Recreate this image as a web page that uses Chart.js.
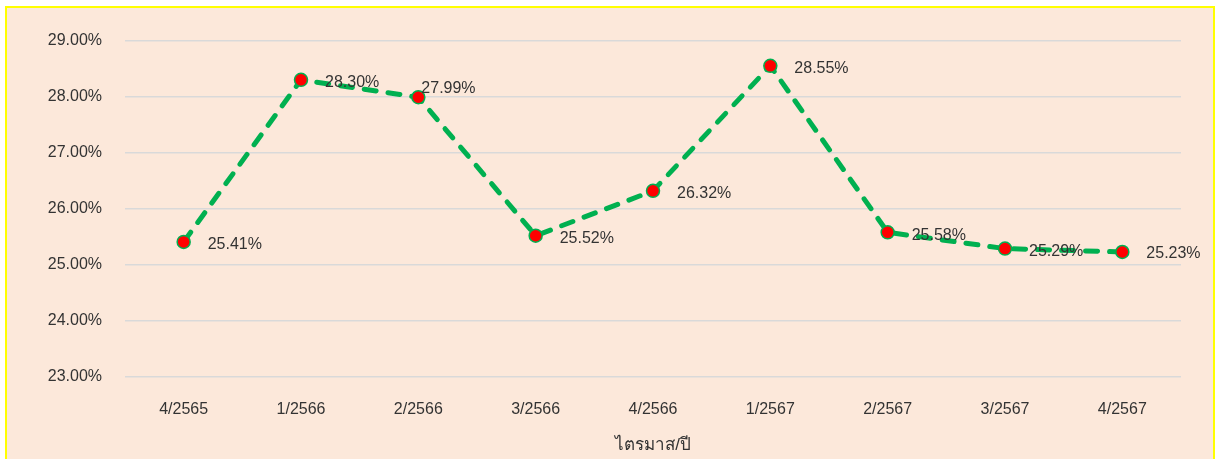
<!DOCTYPE html>
<html>
<head>
<meta charset="utf-8">
<script src="https://cdn.jsdelivr.net/npm/chart.js@4"></script>
<style>
  html, body { margin: 0; padding: 0; background: #ffffff; overflow: hidden; }
  #box {
    position: absolute; left: 5px; top: 6px;
    width: 1206px; height: 460px;
    border: 2px solid #ffff00;
    background: #fce8da;
  }
  #wrap { position: relative; width: 1206px; height: 451px; }
</style>
</head>
<body>
<div id="box"><div id="wrap"><canvas id="chart"></canvas></div></div>
<script>
  // quarters (Thai year)
  const quarters = ["4/2565", "1/2566", "2/2566", "3/2566", "4/2566", "1/2567", "2/2567", "3/2567", "4/2567"];
  // percent values
  const rates = [25.41, 28.30, 27.99, 25.52, 26.32, 28.55, 25.58, 25.29, 25.23];
  const yMin = 23;
  const yMax = 29;
  const axisTitle = "ไตรมาส/ปี";

  const textColor = "#333333";
  const fontFamily = "'Liberation Sans', 'Noto Sans', sans-serif";

  // simple value labels to the right of each point
  const pointLabels = {
    id: "pointLabels",
    afterDatasetsDraw(chart, args, opts) {
      const ctx = chart.ctx;
      const meta = chart.getDatasetMeta(0);
      ctx.save();
      ctx.font = opts.font;
      ctx.fillStyle = opts.color;
      ctx.textAlign = "left";
      ctx.textBaseline = "middle";
      meta.data.forEach((pt, i) => {
        const shift = opts.shift[i] || [24, 3];
        ctx.fillText(rates[i].toFixed(2) + "%", pt.x + shift[0], pt.y + shift[1]);
      });
      ctx.restore();
    }
  };

  new Chart(document.getElementById("chart"), {
    type: "line",
    data: {
      labels: quarters,
      datasets: [{
        data: rates,
        borderColor: "#00b050",
        borderWidth: 5,
        borderDash: [12, 12],
        borderCapStyle: "round",
        tension: 0,
        pointRadius: 6.5,
        pointBackgroundColor: "#ff0000",
        pointBorderColor: "#00b050",
        pointBorderWidth: 1.5
      }]
    },
    options: {
      responsive: true,
      maintainAspectRatio: false,
      animation: false,
      layout: { padding: { top: 30, right: 32, bottom: 0, left: 0 } },
      plugins: {
        legend: { display: false },
        tooltip: { enabled: false },
        pointLabels: {
          font: "16px " + fontFamily,
          color: textColor,
          shift: { 2: [3, -9], 8: [24, 2] }
        }
      },
      scales: {
        x: {
          offset: true,
          afterFit(scale) { scale.height = 82; },
          grid: { display: false, drawTicks: false },
          border: { display: false },
          ticks: { color: textColor, font: { size: 16, family: fontFamily }, padding: 23, maxRotation: 0 },
          title: {
            display: true,
            text: axisTitle,
            color: textColor,
            font: { size: 17, family: fontFamily },
            padding: { top: 4, bottom: 3 }
          }
        },
        y: {
          min: yMin,
          max: yMax,
          afterFit(scale) { scale.width = 118; },
          grid: { color: "#d9d9d9", lineWidth: 1.5, drawTicks: false },
          border: { display: false },
          ticks: {
            stepSize: 1,
            padding: 23,
            color: textColor,
            font: { size: 16, family: fontFamily },
            callback: v => v.toFixed(2) + "%"
          }
        }
      }
    },
    plugins: [pointLabels]
  });
</script>
</body>
</html>
